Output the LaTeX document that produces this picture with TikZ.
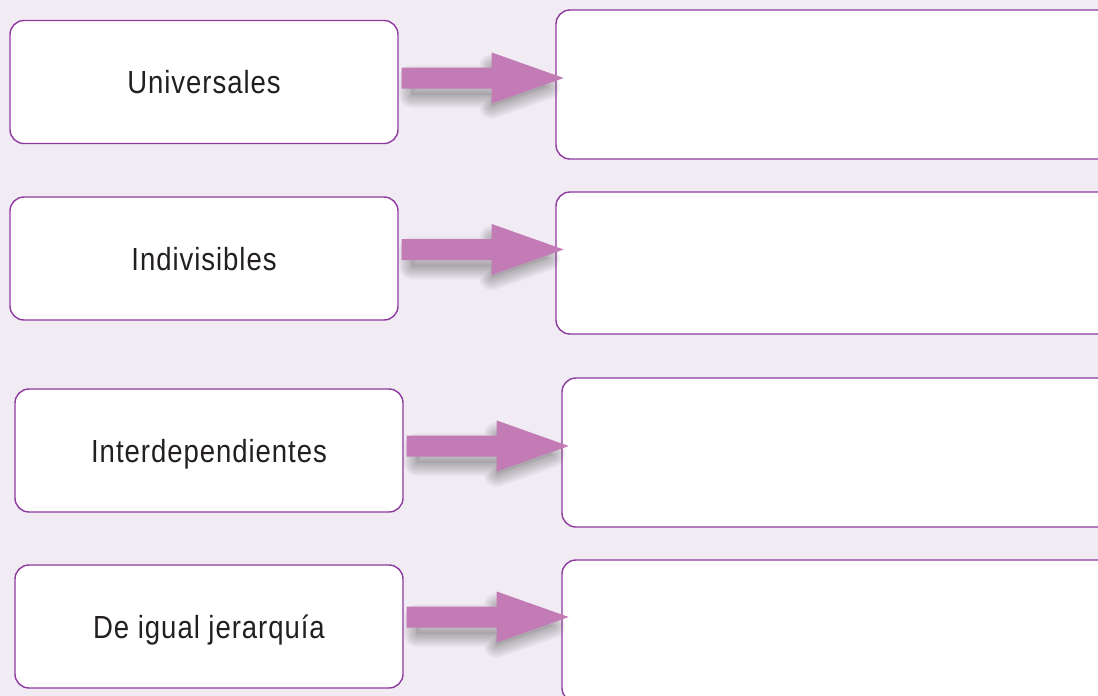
\documentclass[tikz,border=0pt]{standalone}
\usepackage{fontspec}
\setmainfont[FakeStretch=0.86,LetterSpace=3]{Liberation Sans}
\usetikzlibrary{calc}
\definecolor{bg}{HTML}{F1EBF4}
\definecolor{bord}{HTML}{8E3A9E}
\definecolor{arr}{HTML}{C27BB5}
\definecolor{txt}{HTML}{231F20}
\begin{document}
\begin{tikzpicture}[x=1pt,y=-1pt,
  lbox/.style={draw=bord,line width=1.4pt,fill=white,rounded corners=14pt,
    minimum width=388pt,minimum height=123pt,inner sep=0pt,
    text height=23pt,text depth=0pt,
    font=\fontsize{32}{36}\selectfont,text=txt},
  rbox/.style={draw=bord,line width=1.4pt,fill=white,rounded corners=14pt,
    inner sep=0pt},
  blockarrow/.style={fill=arr,draw=none},
  shadowcore/.style={fill=black!70,fill opacity=0.1,draw=none},
  shadowring/.style={draw=black!70,draw opacity=0.03,line join=round,fill=none}]
\useasboundingbox (0,0) rectangle (1098,696);
\fill[bg] (0,0) rectangle (1098,696);
\clip (0,0) rectangle (1098,696);

% left boxes
\node[lbox] (l1) at (204,82) {Universales};
\node[lbox] (l2) at (204,258.5) {Indivisibles};
\node[lbox] (l3) at (209,450.5) {Interdependientes};
\node[lbox] (l4) at (209,626.5) {De igual jerarquía};

% right boxes
\node[rbox,minimum width=564pt,minimum height=149pt] (r1) at (838,84.5) {};
\node[rbox,minimum width=564pt,minimum height=142pt] (r2) at (838,263) {};
\node[rbox,minimum width=558pt,minimum height=149pt] (r3) at (841,452.5) {};
\node[rbox,minimum width=558pt,minimum height=142pt] (r4) at (841,631) {};

% arrow start points
\coordinate (a1) at ($(l1.east)+(3,-4)$);
\coordinate (a2) at ($(l2.east)+(3,-9)$);
\coordinate (a3) at ($(l3.east)+(3,-4.5)$);
\coordinate (a4) at ($(l4.east)+(3,-9.5)$);

\foreach \a in {a1,a2,a3,a4}{
  \path[shadowcore] (\a) ++(10,0) -- ++(80,0) -- ++(0,-11) -- ++(56,19.5)
      -- ++(-56,19.5) -- ++(0,-11) -- ++(-80,0) -- cycle;
  \foreach \w in {2,4,...,26}{
    \path[shadowring,line width=\w pt] (\a) ++(10,0) -- ++(80,0) -- ++(0,-11) -- ++(56,19.5)
      -- ++(-56,19.5) -- ++(0,-11) -- ++(-80,0) -- cycle;
  }
  \path[blockarrow] (\a) ++(0,-10.5) -- ++(90,0) -- ++(0,-15) -- ++(72,25.5)
    -- ++(-72,25.5) -- ++(0,-15) -- ++(-90,0) -- cycle;
}
\end{tikzpicture}
\end{document}
